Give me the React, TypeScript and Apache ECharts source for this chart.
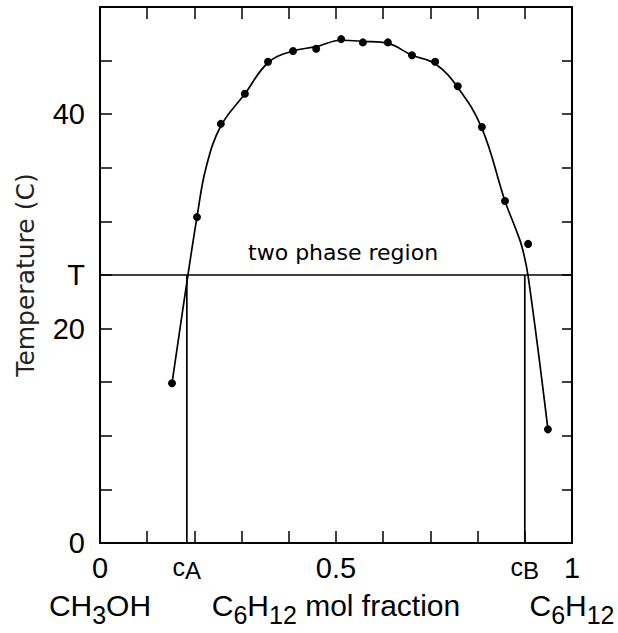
import React, { useEffect, useRef } from "react";
import * as echarts from "echarts";

// Measured cloud points: mol fraction of C6H12 vs temperature (°C)
const dotX = [0.1525, 0.2055, 0.256, 0.307, 0.356, 0.409, 0.458, 0.511, 0.557, 0.61, 0.661, 0.71, 0.758, 0.809, 0.858, 0.907, 0.949];
const dotT = [14.9, 30.4, 39.1, 41.9, 44.9, 45.9, 46.1, 47.0, 46.7, 46.7, 45.5, 44.9, 42.6, 38.8, 31.9, 27.9, 10.6];

// Drawn coexistence curve
const curveX = [0.1525, 0.186, 0.2055, 0.2246, 0.256, 0.307, 0.356, 0.409, 0.458, 0.511, 0.557, 0.61, 0.661, 0.71, 0.758, 0.809, 0.858, 0.879, 0.8935, 0.907, 0.949];
const curveT = [14.9, 24.9, 30.4, 35.0, 38.9, 41.9, 44.8, 45.9, 46.3, 46.9, 46.8, 46.6, 45.5, 44.7, 42.5, 38.7, 31.9, 29.5, 27.7, 24.9, 10.6];

// Two-phase tie line
const T_LINE = 25;
const phaseNames = ["A", "B"];
const phaseComps = [0.184, 0.9];
const regionLabel = "two phase region";

// Tick labels
const xTickValues = [0, 0.5, 1];
const xTickTexts = ["0", "0.5", "1"];
const xCaptions: [string, boolean][][] = [
  [["CH", false], ["3", true], ["OH", false]],
  [["C", false], ["6", true], ["H", false], ["12", true], [" mol fraction", false]],
  [["C", false], ["6", true], ["H", false], ["12", true]],
];
const yTickValues = [0, 20, 25, 40];
const yTickTexts = ["0", "20", "T", "40"];

const NUM_FONT = "'Liberation Sans', Arial, sans-serif";
const TXT_FONT = "'DejaVu Sans', sans-serif";
const INK = "#000";

export default function App() {
  const ref = useRef<HTMLDivElement>(null);
  useEffect(() => {
    if (!ref.current) return;
    const chart = echarts.init(ref.current, undefined, { renderer: "svg" });
    const axisLine = { show: true, onZero: false, lineStyle: { color: INK, width: 2 } };
    const tickStyle = { color: INK, width: 1.5 };
    const line = { color: INK, width: 1.7 };
    chart.setOption({
      animation: false,
      backgroundColor: "#fff",
      grid: { left: 100, right: 46, top: 7, bottom: 90, containLabel: false },
      xAxis: [
        {
          type: "value", min: 0, max: 1, interval: 0.1, position: "bottom",
          axisLine, splitLine: { show: false },
          axisTick: { show: true, inside: true, length: 12, lineStyle: tickStyle },
          axisLabel: {
            show: true, margin: 10, color: INK,
            formatter: (v: number) => {
              const i = xTickValues.findIndex((t) => Math.abs(t - v) < 1e-6);
              if (i < 0) return "";
              const cap = xCaptions[i].map(([t, sub]) => `{${sub ? "s" : "m"}|${t}}`).join("");
              return `{n|${xTickTexts[i]}}\n${cap}`;
            },
            rich: {
              n: { fontSize: 29, lineHeight: 30, fontFamily: NUM_FONT, color: INK, align: "center" },
              m: { fontSize: 30, lineHeight: 44, fontFamily: NUM_FONT, color: INK, align: "center" },
              s: { fontSize: 25, lineHeight: 23, fontFamily: NUM_FONT, color: INK, align: "center", verticalAlign: "bottom" },
            },
          },
        },
        {
          type: "value", min: 0, max: 1, interval: 0.1, position: "top",
          axisLine, splitLine: { show: false },
          axisTick: { show: true, inside: true, length: 12, lineStyle: tickStyle },
          axisLabel: { show: false },
        },
      ],
      yAxis: [
        {
          type: "value", min: 0, max: 50, interval: 5, position: "left",
          name: "Temperature (C)", nameLocation: "middle", nameGap: 62, nameRotate: 90,
          nameTextStyle: { fontSize: 25, fontFamily: TXT_FONT, color: "#222" },
          axisLine, splitLine: { show: false },
          axisTick: { show: true, inside: true, length: 12, lineStyle: tickStyle },
          axisLabel: {
            show: true, margin: 15, fontSize: 29, fontFamily: NUM_FONT, color: INK,
            padding: [7, 0, 0, 0],
            formatter: (v: number) => {
              const i = yTickValues.findIndex((t) => Math.abs(t - v) < 1e-6);
              return i < 0 ? "" : yTickTexts[i];
            },
          },
        },
        {
          type: "value", min: 0, max: 50, interval: 5, position: "right",
          axisLine, splitLine: { show: false },
          axisTick: { show: true, inside: true, length: 10, lineStyle: tickStyle },
          axisLabel: { show: false },
        },
      ],
      series: [
        {
          type: "line", data: curveX.map((x, i) => [x, curveT[i]]), smooth: 0.4,
          symbol: "none", lineStyle: line, z: 3, silent: true,
        },
        {
          type: "scatter", data: dotX.map((x, i) => [x, dotT[i]]), symbolSize: 8,
          itemStyle: { color: INK, opacity: 1 }, z: 4, silent: true,
        },
        {
          type: "line", data: [[0, T_LINE], [1, T_LINE]], symbol: "none", lineStyle: line, silent: true,
        },
        ...phaseComps.map((c) => ({
          type: "line", data: [[c, 0], [c, T_LINE]], symbol: "none", lineStyle: line, silent: true,
        })),
      ],
    });

    // Annotations positioned through the axes' scales
    const toPx = (x: number, y: number) => chart.convertToPixel({ gridIndex: 0 }, [x, y]) as number[];
    const graphics: any[] = phaseComps.map((c, i) => {
      const p = toPx(c, 0);
      return {
        type: "text", x: p[0], y: p[1] + 9, silent: true,
        style: {
          text: `{c|c}{s|${phaseNames[i]}}`, align: "center", verticalAlign: "top",
          rich: {
            c: { fontSize: 25, lineHeight: 30, fontFamily: NUM_FONT, fill: INK, align: "center" },
            s: { fontSize: 24, lineHeight: 14, fontFamily: NUM_FONT, fill: INK, align: "center", verticalAlign: "bottom" },
          },
        },
      };
    });
    const mid = toPx(0.515, T_LINE);
    graphics.push({
      type: "text", x: mid[0], y: mid[1] - 12, silent: true,
      style: {
        text: regionLabel, align: "center", verticalAlign: "bottom",
        fontSize: 22, fontFamily: TXT_FONT, fill: INK,
      },
    });
    chart.setOption({ graphic: graphics });
    return () => chart.dispose();
  }, []);
  return <div ref={ref} style={{ position: "fixed", left: 0, top: 0, width: 618, height: 633, background: "#fff" }} />;
}
